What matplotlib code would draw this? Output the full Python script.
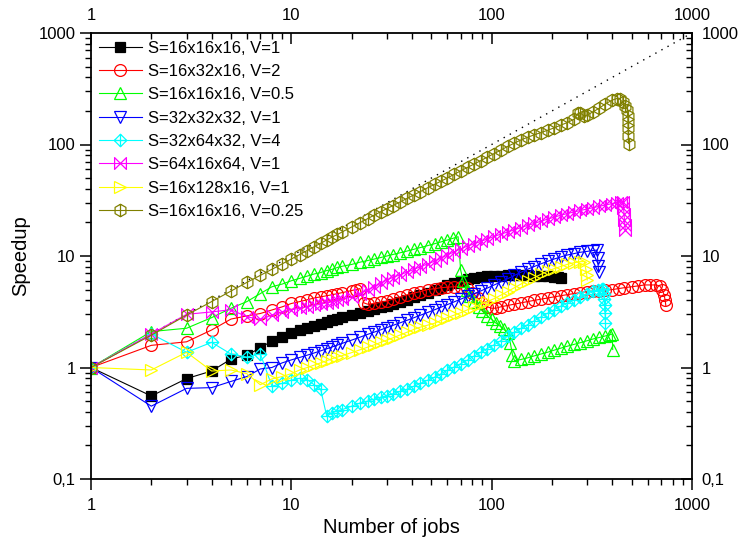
import matplotlib
matplotlib.use('Agg')
from matplotlib import pyplot as plt
from matplotlib.path import Path
from matplotlib.ticker import LogLocator, FuncFormatter, NullFormatter

# S=16x16x16, V=1
jobs_a = [1, 2, 3, 4, 5, 6, 7, 8, 9, 10, 11, 12, 13, 14, 15, 16, 17, 18,
          20, 22, 24, 26, 28, 30, 32, 35, 38, 41, 44, 48, 52, 56, 60, 65, 70,
          76, 82, 88, 95, 103, 111, 120, 130, 140, 151, 163, 176, 190, 205, 215, 222]
speed_a = [1, 0.555, 0.795, 0.93, 1.19, 1.29, 1.5, 1.73, 1.89, 2.03, 2.15, 2.27, 2.38, 2.48, 2.57, 2.66, 2.74, 2.82,
           2.97, 3.1, 3.22, 3.34, 3.46, 3.58, 3.7, 3.88, 4.05, 4.25, 4.45, 4.7, 4.95, 5.2, 5.45, 5.75, 6.0,
           6.2, 6.35, 6.45, 6.55, 6.6, 6.65, 6.7, 6.7, 6.7, 6.7, 6.65, 6.6, 6.55, 6.5, 6.45, 6.4]

# S=16x32x16, V=2
jobs_b = [1, 2, 3, 4, 5, 6, 7, 8, 9, 10, 11, 12, 13, 14, 15, 16, 17, 18,
          20, 21, 22, 23, 24, 26, 28, 30, 32, 35, 38, 41, 44, 48, 52, 56, 60, 65, 70,
          75, 80, 85, 90, 95, 100, 105, 111, 120, 130, 140, 151, 163, 176, 190, 205, 221, 238, 257, 277,
          300, 320, 345, 370, 400, 430, 460, 500, 540, 580, 620, 660, 690, 710, 725, 735, 740]
speed_b = [1, 1.58, 1.7, 2.17, 2.72, 2.9, 3.05, 3.28, 3.5, 3.75, 3.9, 4.05, 4.2, 4.3, 4.4, 4.5, 4.6, 4.7,
           4.9, 5.0, 5.1, 3.8, 3.7, 3.75, 3.85, 3.95, 4.1, 4.3, 4.5, 4.65, 4.8, 5.0, 5.1, 5.2, 5.25, 5.3, 5.3,
           5.2, 4.7, 4.2, 3.8, 3.5, 3.4, 3.4, 3.5, 3.6, 3.7, 3.8, 3.9, 4.0, 4.1, 4.2, 4.3, 4.4, 4.5, 4.6, 4.7,
           4.8, 4.85, 4.9, 4.95, 5.0, 5.1, 5.2, 5.3, 5.4, 5.5, 5.5, 5.5, 5.4, 5.0, 4.5, 4.0, 3.6]

# S=16x16x16, V=0.5
jobs_c = [1, 2, 3, 4, 5, 6, 7, 8, 9, 10, 11, 12, 13, 14, 15, 16, 17, 18,
          20, 22, 24, 26, 28, 30, 32, 35, 38, 41, 44, 48, 52, 56, 60, 64, 68,
          70, 72, 75, 78, 82, 86, 90, 95, 100, 105, 110, 115, 120, 124, 127, 130, 140, 151, 163, 176,
          190, 205, 221, 238, 257, 277, 300, 320, 345, 370, 390, 400, 402]
speed_c = [1, 2.1, 2.25, 2.8, 3.4, 3.9, 4.6, 5.3, 5.6, 6.0, 6.3, 6.6, 6.9, 7.1, 7.4, 7.6, 7.9, 8.1,
           8.4, 8.8, 9.1, 9.4, 9.7, 10.0, 10.3, 10.7, 11.1, 11.5, 11.9, 12.4, 12.9, 13.4, 13.9, 14.4, 14.9,
           7.5, 6.0, 5.0, 4.4, 3.9, 3.5, 3.2, 2.9, 2.7, 2.5, 2.35, 2.2, 2.05, 1.65, 1.3, 1.15, 1.18, 1.22, 1.27, 1.32,
           1.37, 1.43, 1.49, 1.55, 1.61, 1.67, 1.74, 1.80, 1.86, 1.92, 1.97, 2.0, 1.45]

# S=32x32x32, V=1
jobs_d = [1, 2, 3, 4, 5, 6, 7, 8, 9, 10, 11, 12, 13, 14, 15, 16, 17, 18,
          20, 22, 24, 26, 28, 30, 32, 35, 38, 41, 44, 48, 52, 56, 60, 65, 70,
          76, 82, 88, 95, 103, 111, 120, 130, 140, 151, 163, 176, 190, 205, 221, 238, 257, 277, 300, 320,
          335, 338, 340, 342]
speed_d = [1, 0.45, 0.65, 0.66, 0.75, 0.83, 0.97, 1.0, 1.1, 1.17, 1.23, 1.29, 1.35, 1.41, 1.47, 1.53, 1.59, 1.65,
           1.76, 1.87, 1.98, 2.08, 2.18, 2.28, 2.38, 2.52, 2.66, 2.8, 2.94, 3.12, 3.3, 3.48, 3.66, 3.88, 4.1,
           4.35, 4.6, 4.85, 5.15, 5.5, 5.85, 6.25, 6.7, 7.15, 7.6, 8.05, 8.5, 8.95, 9.4, 9.8, 10.2, 10.5, 10.8, 11.0, 11.2,
           11.3, 9.5, 8.2, 7.2]

# S=32x64x32, V=4
jobs_e = [1, 2, 3, 4, 5, 6, 7, 8, 9, 10, 11, 12, 13, 14, 15, 16, 17, 18,
          20, 22, 24, 26, 28, 30, 32, 35, 38, 41, 44, 48, 52, 56, 60, 65, 70,
          76, 82, 88, 95, 103, 111, 120, 130, 140, 151, 163, 176, 190, 205, 221, 238, 257, 277, 300, 320,
          340, 355, 360, 362, 364, 366, 368, 370]
speed_e = [1, 2.0, 1.37, 1.68, 1.32, 1.24, 1.33, 0.68, 0.72, 0.77, 0.8, 0.78, 0.7, 0.64, 0.37, 0.39, 0.41, 0.42,
           0.45, 0.48, 0.5, 0.52, 0.54, 0.56, 0.58, 0.61, 0.64, 0.68, 0.72, 0.77, 0.82, 0.88, 0.94, 1.01, 1.08,
           1.17, 1.27, 1.37, 1.48, 1.6, 1.74, 1.9, 2.07, 2.24, 2.42, 2.62, 2.84, 3.06, 3.3, 3.55, 3.8, 4.05, 4.3, 4.6, 4.85,
           5.0, 5.1, 5.1, 4.6, 4.1, 3.6, 3.1, 2.5]

# S=64x16x64, V=1
jobs_f = [1, 2, 3, 4, 5, 6, 7, 8, 9, 10, 11, 12, 13, 14, 15, 16, 17, 18,
          20, 22, 24, 26, 28, 30, 32, 35, 38, 41, 44, 48, 52, 56, 60, 65, 70,
          76, 82, 88, 95, 103, 111, 120, 130, 140, 151, 163, 176, 190, 205, 221, 238, 257, 277, 300, 320,
          345, 370, 400, 420, 440, 450, 455, 458, 460, 462, 465]
speed_f = [1, 2.0, 3.0, 3.15, 3.3, 2.85, 2.7, 2.95, 3.15, 3.3, 3.4, 3.5, 3.6, 3.7, 3.8, 3.9, 4.0, 4.1,
           4.3, 4.6, 4.95, 5.3, 5.7, 6.1, 6.4, 6.8, 7.2, 7.6, 8.0, 8.5, 9.0, 9.6, 10.2, 10.9, 11.6,
           12.3, 12.9, 13.5, 14.2, 15.0, 15.7, 16.4, 17.2, 18.0, 18.8, 19.6, 20.5, 21.4, 22.3, 23.2, 24.0, 24.8, 25.6, 26.4, 27.1,
           27.9, 28.7, 29.5, 30.0, 30.4, 30.5, 27, 24, 21, 19, 17]

# S=16x128x16, V=1
jobs_g = [1, 2, 3, 4, 5, 6, 7, 8, 9, 10, 11, 12, 13, 14, 15, 16, 17, 18,
          20, 22, 24, 26, 28, 30, 32, 35, 38, 41, 44, 48, 52, 56, 60, 65, 70,
          76, 82, 88, 95, 103, 111, 120, 130, 140, 151, 163, 176, 190, 205, 221, 238, 257, 277,
          290, 295, 298, 300]
speed_g = [1, 0.95, 1.37, 0.93, 0.95, 0.88, 0.7, 0.79, 0.83, 0.88, 0.95, 1.0, 1.05, 1.1, 1.15, 1.2, 1.24, 1.28,
           1.36, 1.44, 1.52, 1.6, 1.68, 1.76, 1.84, 1.96, 2.08, 2.2, 2.3, 2.4, 2.5, 2.65, 2.8, 2.95, 3.1,
           3.3, 3.5, 3.7, 3.9, 4.15, 4.45, 4.8, 5.2, 5.6, 6.0, 6.4, 6.85, 7.3, 7.7, 8.05, 8.4, 8.7, 8.9,
           8.9, 7.6, 6.8, 6.1]

# S=16x16x16, V=0.25
jobs_h = [1, 2, 3, 4, 5, 6, 7, 8, 9, 10, 11, 12, 13, 14, 15, 16, 17, 18,
          20, 22, 24, 26, 28, 30, 32, 35, 38, 41, 44, 48, 52, 56, 60, 65, 70,
          76, 82, 88, 95, 103, 111, 120, 130, 140, 151, 163, 176, 190, 205, 221, 238, 257, 270, 277, 290,
          300, 320, 345, 370, 400, 420, 435, 450, 465, 476, 478, 479, 480, 481, 482]
speed_h = [1, 1.95, 2.95, 3.9, 4.85, 5.8, 6.7, 7.6, 8.5, 9.4, 10.3, 11.2, 12.1, 13.0, 13.9, 14.8, 15.6, 16.5,
           18.2, 19.9, 21.6, 23.3, 25.0, 26.6, 28.2, 30.6, 33.0, 35.4, 37.8, 41, 44, 47, 50, 54, 58,
           62.5, 67, 71.5, 77, 83, 89, 96, 103, 110, 116, 122, 128, 134, 141, 149, 157, 168, 190, 192, 180,
           184, 196, 212, 232, 250, 258, 256, 240, 220, 205, 180, 160, 140, 120, 102]

# ideal speedup
ideal = [1, 1000]

labels = ['S=16x16x16, V=1', 'S=16x32x16, V=2', 'S=16x16x16, V=0.5', 'S=32x32x32, V=1',
          'S=32x64x32, V=4', 'S=64x16x64, V=1', 'S=16x128x16, V=1', 'S=16x16x16, V=0.25']

# origin 风格的标记
M, L, C = Path.MOVETO, Path.LINETO, Path.CLOSEPOLY
diamond_cross = Path([(0, 1), (1, 0), (0, -1), (-1, 0), (0, 1), (-1, 0), (1, 0), (0, -1), (0, 1)],
                     [M, L, L, L, C, M, L, M, L])
bowtie = Path([(-1, 1), (1, -1), (1, 1), (-1, -1), (-1, 1)], [M, L, L, L, C])
hex_bar = Path([(0, 1), (-0.866, 0.5), (-0.866, -0.5), (0, -1), (0.866, -0.5), (0.866, 0.5), (0, 1),
                (0, 1), (0, -1)], [M, L, L, L, L, L, C, M, L])

series = [
    (jobs_a, speed_a, '#000000', 's', 6.5, True),
    (jobs_b, speed_b, '#FF0000', 'o', 8.5, False),
    (jobs_c, speed_c, '#00FF00', '^', 8.5, False),
    (jobs_d, speed_d, '#0000FF', 'v', 8.5, False),
    (jobs_e, speed_e, '#00FFFF', diamond_cross, 9, False),
    (jobs_f, speed_f, '#FF00FF', bowtie, 8.5, False),
    (jobs_g, speed_g, '#FFFF00', '>', 8.5, False),
    (jobs_h, speed_h, '#808000', hex_bar, 9, False),
]

plt.rcParams['font.family'] = ['Liberation Sans', 'DejaVu Sans']

fig = plt.figure(figsize=(7.39, 5.45), dpi=100)
rect = [91 / 739, 66 / 545, 601 / 739, 446 / 545]
ax = fig.add_axes(rect)

ax.plot(ideal, ideal, color='black', lw=1.0, ls=(0, (1, 4)))
for (x, y, c, m, ms, filled), lab in zip(series, labels):
    ax.plot(x, y, color=c, lw=0.8, marker=m, ms=ms, mec=c, mew=0.9,
            mfc=c if filled else 'none', label=lab)

comma = FuncFormatter(lambda v, pos: ('%g' % v).replace('.', ','))

# 底部和左侧坐标轴
ax.set_xscale('log')
ax.set_yscale('log')
ax.set_xlim(1, 1000)
ax.set_ylim(0.1, 1000)
ax.xaxis.set_minor_locator(LogLocator(subs=range(2, 10)))
ax.yaxis.set_minor_locator(LogLocator(subs=range(2, 10)))
ax.xaxis.set_major_formatter(comma)
ax.yaxis.set_major_formatter(comma)
ax.xaxis.set_minor_formatter(NullFormatter())
ax.yaxis.set_minor_formatter(NullFormatter())
ax.tick_params(which='major', direction='out', length=8, width=1.1, labelsize=12, pad=3)
ax.tick_params(axis='x', which='major', pad=6)
ax.tick_params(which='minor', direction='out', length=4.5, width=1.0)
for s in ax.spines.values():
    s.set_linewidth(1.3)

# 顶部和右侧坐标轴 (刻度向内)
ax2 = fig.add_axes(rect, frameon=False)
ax2.set_xscale('log')
ax2.set_yscale('log')
ax2.set_xlim(1, 1000)
ax2.set_ylim(0.1, 1000)
ax2.xaxis.set_minor_locator(LogLocator(subs=range(2, 10)))
ax2.yaxis.set_minor_locator(LogLocator(subs=range(2, 10)))
ax2.xaxis.set_major_formatter(comma)
ax2.yaxis.set_major_formatter(comma)
ax2.xaxis.set_minor_formatter(NullFormatter())
ax2.yaxis.set_minor_formatter(NullFormatter())
ax2.xaxis.tick_top()
ax2.yaxis.tick_right()
ax2.tick_params(which='major', direction='in', length=8, width=1.1, labelsize=12, pad=7)
ax2.tick_params(which='minor', direction='in', length=4.5, width=1.0)

ax.set_xlabel('Number of jobs', fontsize=14.5, labelpad=3)
ax.set_ylabel('Speedup', fontsize=14.5, labelpad=6)

ax.legend(loc='upper left', bbox_to_anchor=(0, 1), frameon=False, fontsize=12,
          handlelength=2.6, handletextpad=0.35, labelspacing=0.5,
          borderaxespad=0.1, borderpad=0.35, numpoints=1)

fig.savefig('out.png', dpi=100)
